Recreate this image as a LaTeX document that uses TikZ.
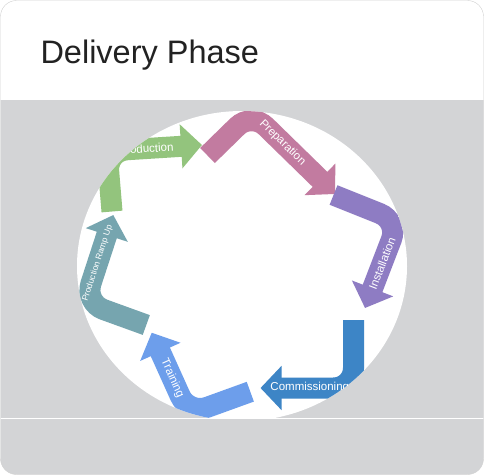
\documentclass[tikz,border=0pt]{standalone}
\usepackage{fontspec}
\setmainfont{Liberation Sans}
\usepackage{tikz}
\usetikzlibrary{arrows.meta}
\definecolor{cardgray}{HTML}{D3D4D6}
\definecolor{titlegray}{HTML}{222222}
\definecolor{prodgreen}{HTML}{93C47D}
\definecolor{preppink}{HTML}{C27BA0}
\definecolor{instpurple}{HTML}{8E7CC3}
\definecolor{commblue}{HTML}{3D85C6}
\definecolor{trainblue}{HTML}{6D9EEB}
\definecolor{rampteal}{HTML}{76A5AF}
\newcommand{\phasewidth}{21pt}
\newcommand{\phasebend}{20pt}
\tikzstyle{phase}=[line width=\phasewidth, rounded corners=\phasebend,
                   % Head is wider than the band.
                   -{Triangle[length=21pt, width=43pt]}]
\tikzstyle{phaselabel}=[sloped, inner sep=0, text=white, font=\fontsize{11.5}{12}\selectfont]
\tikzstyle{smallphaselabel}=[phaselabel, font=\fontsize{8.6}{10}\selectfont]
\tikzstyle{card}=[rounded corners=16pt]

\begin{document}
\begin{tikzpicture}[x=1pt, y=-1pt]
    \useasboundingbox (0,0) rectangle (484,475);
    \begin{scope}
        \clip[card] (0.5,0.5) rectangle (483.5,474.5);
        \fill[white] (0,0) rectangle (484,100);
        \fill[cardgray] (0,100) rectangle (484,475);
        \draw[white, line width=1.2pt] (0,418.5) -- (484,418.5);
    \end{scope}
    \draw[card, black!18] (0.5,0.5) rectangle (483.5,474.5);
    \node[anchor=base west, text=titlegray, font=\fontsize{32.5}{38}\selectfont] (title) at (37,63.5) {Delivery Phase};
    \begin{scope}
        \clip (0,100) rectangle (484,418);
        \fill[white] (242,266) ellipse [x radius=165, y radius=155];
        \clip (242,266) ellipse [x radius=165, y radius=155];
        \coordinate (prod0) at (112,211.5);
        \coordinate (prod1) at (107,151);
        \coordinate (prod2) at (202,145);
        \coordinate (prep0) at (207.5,155.5);
        \coordinate (prep1) at (251.5,112.5);
        \coordinate (prep2) at (335,194);
        \coordinate (inst0) at (333.5,195);
        \coordinate (inst1) at (398.5,221);
        \coordinate (inst2) at (365,308);
        \coordinate (comm0) at (353.5,320);
        \coordinate (comm1) at (353.5,388);
        \coordinate (comm2) at (260.5,388);
        \coordinate (train0) at (250.3,391.7);
        \coordinate (train1) at (188.4,414.1);
        \coordinate (train2) at (151.7,332.7);
        \coordinate (ramp0) at (146.3,325);
        \coordinate (ramp1) at (84.7,302.7);
        \coordinate (ramp2) at (113.3,215);
        \draw[phase, prodgreen] (prod0) -- (prod1) -- node[phaselabel, pos=0.41] (prodtext) {Production} (prod2);
        \draw[phase, preppink] (prep0) -- (prep1) -- node[phaselabel, pos=0.37] (preptext) {Preparation} (prep2);
        \draw[phase, instpurple] (inst0) -- (inst1) -- node[phaselabel, pos=0.49] (insttext) {Installation} (inst2);
        \draw[phase, commblue] (comm0) -- (comm1) -- node[phaselabel, pos=0.47] (commtext) {Commissioning} (comm2);
        \draw[phase, trainblue] (train0) -- (train1) -- node[phaselabel, pos=0.44] (traintext) {Training} (train2);
        \draw[phase, rampteal] (ramp0) -- (ramp1) -- node[smallphaselabel, pos=0.45] (ramptext) {Production Ramp Up} (ramp2);
    \end{scope}
\end{tikzpicture}
\end{document}
